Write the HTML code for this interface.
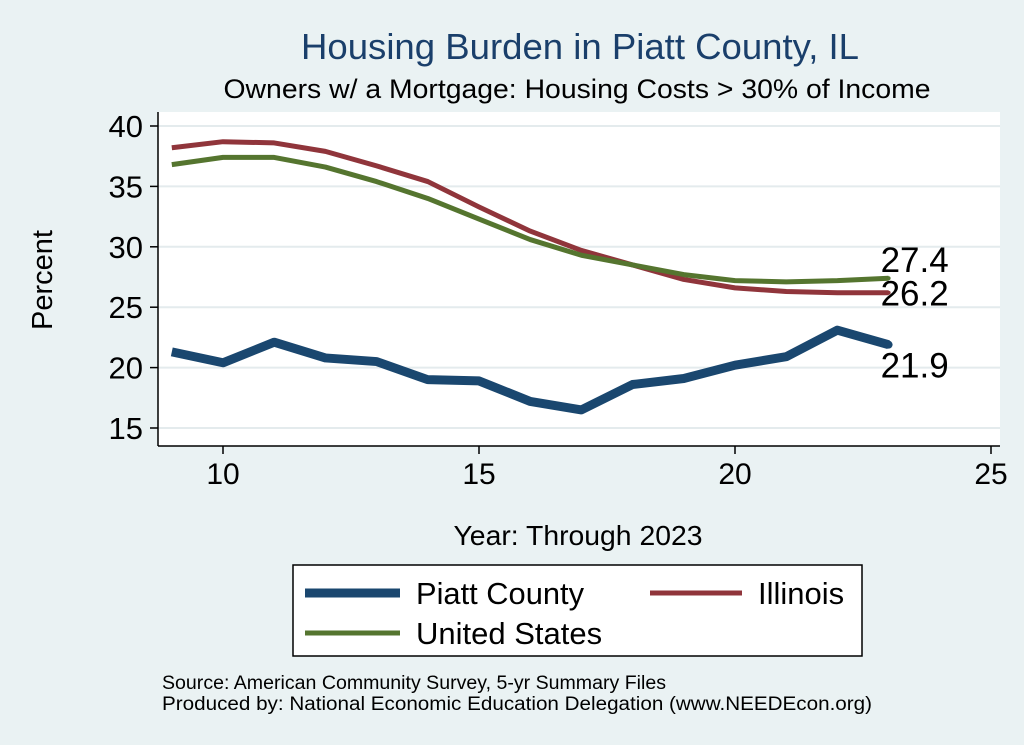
<!DOCTYPE html>
<html><head><meta charset="utf-8"><style>
body{margin:0;background:#eaf2f3;font-family:"Liberation Sans",Arial,sans-serif;}
svg{display:block}
</style></head><body>
<svg id="c" width="1024" height="745">
<rect x="0" y="0" width="1024" height="745" fill="#eaf2f3"/>
<text x="580" y="59" text-anchor="middle" font-size="36" fill="#1a3f6b" textLength="558" lengthAdjust="spacingAndGlyphs">Housing Burden in Piatt County, IL</text>
<text x="577" y="98" text-anchor="middle" font-size="27" fill="#000" textLength="707" lengthAdjust="spacingAndGlyphs">Owners w/ a Mortgage: Housing Costs &gt; 30% of Income</text>
<rect x="158" y="112" width="842" height="334" fill="#fff"/>
<g id="grid"></g><g id="axes"></g><g id="series"></g>
<text x="52" y="280" text-anchor="middle" font-size="29" transform="rotate(-90 52 280)">Percent</text>
<text x="578" y="545" text-anchor="middle" font-size="28" textLength="249" lengthAdjust="spacingAndGlyphs">Year: Through 2023</text>
<g>
<rect x="293" y="565" width="569" height="91" fill="#fff" stroke="#000" stroke-width="1.5"/>
<line x1="305" y1="593" x2="400" y2="593" stroke="#1a476f" stroke-width="9"/>
<text x="416" y="604" font-size="31" textLength="168" lengthAdjust="spacingAndGlyphs">Piatt County</text>
<line x1="650" y1="593" x2="742" y2="593" stroke="#90353b" stroke-width="5"/>
<text x="758" y="604" font-size="31">Illinois</text>
<line x1="305" y1="633" x2="400" y2="633" stroke="#55752f" stroke-width="5"/>
<text x="416" y="644" font-size="31">United States</text>
</g>
<text x="162" y="689" font-size="19" textLength="504" lengthAdjust="spacingAndGlyphs">Source: American Community Survey, 5-yr Summary Files</text>
<text x="162" y="710" font-size="19" textLength="710" lengthAdjust="spacingAndGlyphs">Produced by: National Economic Education Delegation (www.NEEDEcon.org)</text>
</svg>
<script>
const years=[9,10,11,12,13,14,15,16,17,18,19,20,21,22,23];
const piatt=[21.3,20.4,22.1,20.8,20.5,19.0,18.9,17.2,16.5,18.6,19.1,20.2,20.9,23.1,21.9];
const illinois=[38.2,38.7,38.6,37.9,36.7,35.4,33.3,31.3,29.7,28.5,27.3,26.6,26.3,26.2,26.2];
const us=[36.8,37.4,37.4,36.6,35.4,34.0,32.3,30.6,29.3,28.5,27.7,27.2,27.1,27.2,27.4];
const yTicks=[15,20,25,30,35,40];
const xTicks=[10,15,20,25];
const NS="http://www.w3.org/2000/svg";
const X=v=>223+(v-10)*51.2;
const Y=v=>428-(v-15)*12.08;
function mk(t,a,p){const e=document.createElementNS(NS,t);for(const k in a)e.setAttribute(k,a[k]);p.appendChild(e);return e;}
const grid=document.getElementById('grid'),axes=document.getElementById('axes'),ser=document.getElementById('series');
mk('line',{x1:158,y1:112,x2:158,y2:446,stroke:'#000','stroke-width':1.5},axes);
mk('line',{x1:158,y1:446,x2:1000,y2:446,stroke:'#000','stroke-width':1.5},axes);
yTicks.forEach(t=>{
 const g=mk('line',{x1:158,x2:1000,y1:Y(t),y2:Y(t),stroke:'#e4ebed','stroke-width':2},grid);
 
 
 mk('line',{x1:150,x2:158,y1:Y(t),y2:Y(t),stroke:'#000','stroke-width':1.5},axes);
 const tx=mk('text',{x:143,y:Y(t)+11,'text-anchor':'end','font-size':31},axes);tx.textContent=t;
 
 
});
xTicks.forEach(t=>{
 mk('line',{x1:X(t),x2:X(t),y1:446,y2:454,stroke:'#000','stroke-width':1.5},axes);
 const tx=mk('text',{x:X(t),y:484,'text-anchor':'middle','font-size':30},axes);tx.textContent=t;
 
 
});
function line(data,color,w,name){
 const p=mk('polyline',{points:years.map((y,i)=>X(y)+','+Y(data[i])).join(' '),fill:'none',stroke:color,'stroke-width':w,'stroke-linejoin':'round'},ser);
 
 
 const n=data.length-1;
 mk('circle',{cx:X(years[n]),cy:Y(data[n]),r:w/2-0.5,fill:color},ser);
}
line(illinois,'#90353b',5,'illinois-line');
line(us,'#55752f',5,'us-line');
line(piatt,'#1a476f',9,'piatt-line');
const n=years.length-1;
[[us,-6,'label-us'],[illinois,13,'label-illinois'],[piatt,33,'label-piatt']].forEach(([d,dy,nm])=>{
 const t=mk('text',{x:X(years[n])-8,y:Y(d[n])+dy,'font-size':35,fill:'#000'},ser);
 t.textContent=d[n].toFixed(1);
 
 
});
</script>
</body></html>
